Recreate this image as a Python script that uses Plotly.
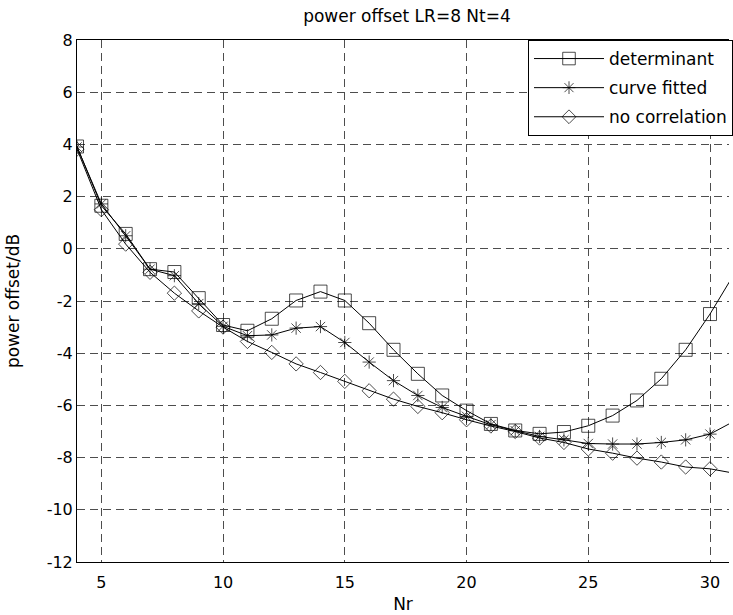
import plotly.graph_objects as go

nr = [4, 5, 6, 7, 8, 9, 10, 11, 12, 13, 14, 15, 16, 17, 18, 19, 20,
      21, 22, 23, 24, 25, 26, 27, 28, 29, 30, 31]

determinant = [3.92, 1.65, 0.57, -0.78, -0.89, -1.89, -2.92, -3.14, -2.68, -1.98,
               -1.64, -1.98, -2.85, -3.87, -4.79, -5.62, -6.20, -6.71, -6.96, -7.09,
               -7.02, -6.78, -6.39, -5.81, -4.98, -3.87, -2.50, -0.95]

curve_fitted = [3.90, 1.72, 0.50, -0.78, -1.03, -2.10, -2.97, -3.33, -3.30, -3.04,
                -2.98, -3.59, -4.34, -5.05, -5.62, -6.08, -6.42, -6.74, -6.97, -7.19,
                -7.32, -7.46, -7.48, -7.48, -7.42, -7.32, -7.10, -6.60]

no_correlation = [3.82, 1.50, 0.18, -0.90, -1.70, -2.38, -3.00, -3.55, -3.97, -4.41,
                  -4.74, -5.08, -5.44, -5.76, -6.04, -6.28, -6.55, -6.79, -7.00, -7.25,
                  -7.42, -7.67, -7.83, -8.02, -8.17, -8.36, -8.43, -8.60]

x_ticks = [5, 10, 15, 20, 25, 30]
y_ticks = [-12, -10, -8, -6, -4, -2, 0, 2, 4, 6, 8]

# markers only at the measured points (the last point only continues the line)
last_marked = 30

series = [
    ("determinant", determinant, "square-open", 13),
    ("curve fitted", curve_fitted, "asterisk-open", 11),
    ("no correlation", no_correlation, "diamond-open", 11),
]

fig = go.Figure()
for name, vals, sym, sz in series:
    sizes = [sz if x <= last_marked else 0 for x in nr]
    fig.add_trace(go.Scatter(
        x=nr, y=vals, name=name, mode="lines+markers", legendgroup=name,
        line=dict(color="black", width=1),
        marker=dict(symbol=sym, size=sizes, color="black",
                    line=dict(color="black", width=1)),
    ))

font = "DejaVu Sans, sans-serif"
fig.update_layout(
    width=733, height=615,
    margin=dict(l=77, r=0, t=40, b=53),
    paper_bgcolor="white", plot_bgcolor="white",
    font=dict(family=font, size=16, color="black"),
    title=dict(text="power offset LR=8 Nt=4", x=407 / 733, xref="container",
               xanchor="center", y=1 - 16 / 615, yanchor="middle",
               font=dict(size=17, color="black")),
    showlegend=True,
    legend=dict(x=(531 - 77) / 656, y=1, xanchor="left", yanchor="top",
                bgcolor="white", bordercolor="black", borderwidth=1,
                font=dict(size=17, color="black"), itemwidth=70,
                tracegroupgap=4),
)
fig.update_xaxes(
    range=[4, 30.78], tickvals=x_ticks, ticktext=[str(v) for v in x_ticks],
    showline=True, linecolor="black", linewidth=1, mirror=True,
    showgrid=True, gridcolor="#4d4d4d", gridwidth=1, griddash="8px,5px",
    zeroline=False, ticks="", tickfont=dict(size=16), automargin=False,
    ticklabelstandoff=6,
    title=dict(text="Nr", font=dict(size=17), standoff=6),
)
fig.update_yaxes(
    range=[-12, 8], tickvals=y_ticks, ticktext=[str(v) for v in y_ticks],
    showline=True, linecolor="black", linewidth=1, mirror=False,
    showgrid=True, gridcolor="#4d4d4d", gridwidth=1, griddash="8px,5px",
    zeroline=False, ticks="", tickfont=dict(size=16), automargin=False,
    title=dict(text="power offset/dB", font=dict(size=17), standoff=22),
)

fig.write_html(
    "out.html",
    config={"displayModeBar": False},
    post_script="document.body.style.margin='0';document.body.style.overflow='hidden';",
)
